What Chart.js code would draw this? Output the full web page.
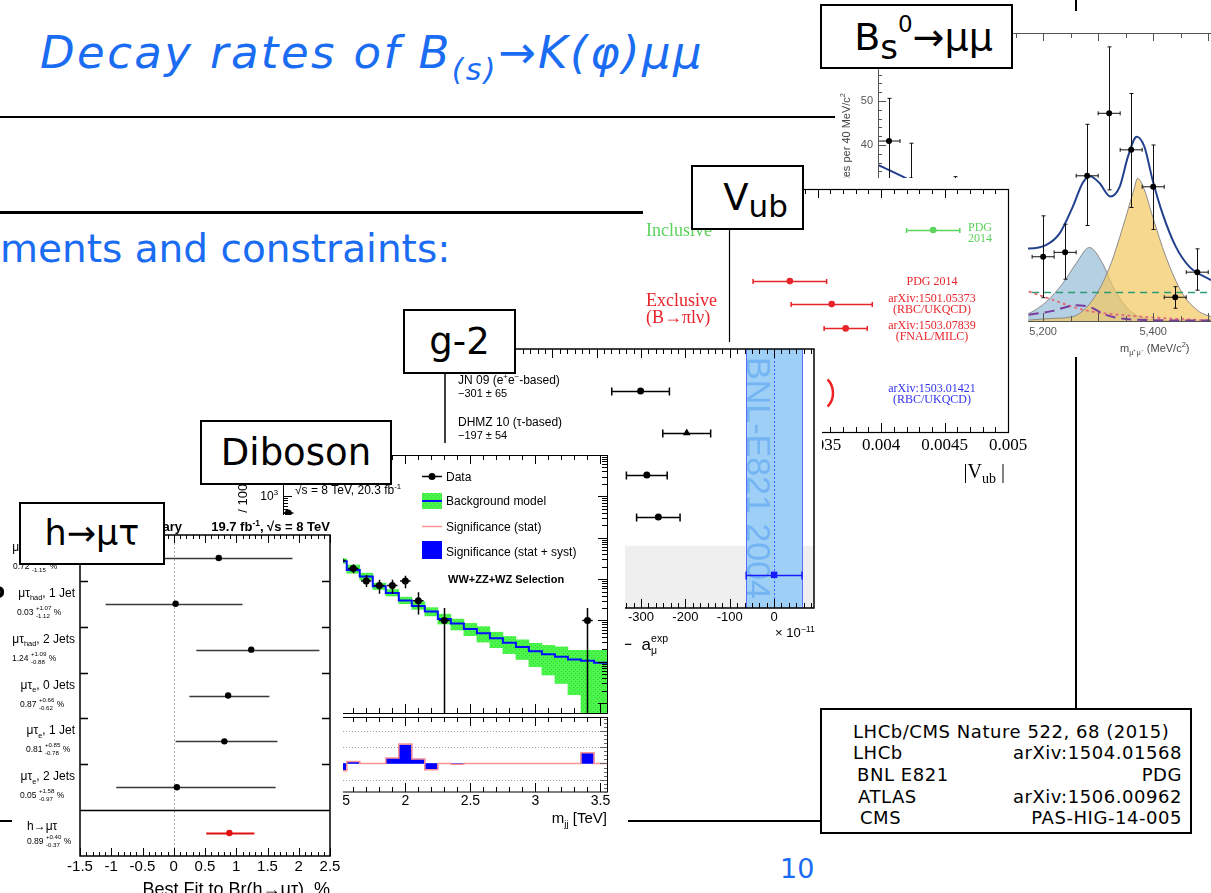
<!DOCTYPE html>
<html lang="en">
<head>
<meta charset="utf-8">
<title>Decay rates of B(s) → K(φ)μμ</title>
<script src="https://cdn.jsdelivr.net/npm/chart.js@4.4.1/dist/chart.umd.min.js"></script>
<style>
  html, body { margin: 0; padding: 0; background: #fff; overflow: hidden; }
  #slide { position: relative; width: 1211px; height: 893px; overflow: hidden; background: #fff;
           font-family: 'DejaVu Sans', Verdana, sans-serif; }
  .abs { position: absolute; white-space: nowrap; }
  .pane { position: absolute; overflow: hidden; background: #fff; }
  .pane canvas { position: absolute; left: 0; }
  .rule { position: absolute; background: #000; }
  .tag { position: absolute; box-sizing: border-box; border: 2px solid #000; background: #fff; color: #000;
         display: flex; align-items: center; justify-content: center; font-size: 37px; line-height: 1; white-space: nowrap; }
  .blue { color: #1a6cf2; }
  #refs div { position: absolute; white-space: nowrap; }
</style>
</head>
<body>
<div id="slide">
  <div class="abs blue" style="left:40px;top:30px;font-size:45px;line-height:45px;font-style:italic;letter-spacing:2.4px">Decay rates of B<span style="font-size:30px;position:relative;top:12px">(s)</span>→K(φ)μμ</div>
  <div class="rule" style="left:0;top:116px;width:835px;height:2px"></div>
  <div class="rule" style="left:0;top:211px;width:643px;height:3px"></div>
  <div class="abs blue" style="left:0;top:229px;font-size:39px;line-height:39px">ments and constraints:</div>

  <div class="rule" style="left:1075px;top:0;width:2px;height:11px"></div>
  <div class="rule" style="left:1075px;top:357px;width:2px;height:351px"></div>
  <div class="rule" style="left:628px;top:820px;width:192px;height:2px"></div>

  <div class="pane" style="left:838px;top:8px;width:373px;height:352px;z-index:1;background:transparent">
    <canvas id="cBs" width="420" height="352" style="top:0"></canvas>
  </div>
  <div class="tag" style="left:820px;top:4px;width:193px;height:65px;z-index:2;padding-left:14px;font-size:38px">B<span style="font-size:34px;position:relative;top:10px">s</span><span style="font-size:23px;position:relative;top:-12px">0</span>→μμ</div>

  <div class="pane" style="left:643px;top:178px;width:385px;height:312px;z-index:3">
    <canvas id="cVub" width="430" height="312" style="top:0"></canvas>
  </div>
  <div class="tag" style="left:691px;top:165px;width:113px;height:65px;z-index:4;padding-left:16px">V<span style="font-size:31px;position:relative;top:9px">ub</span></div>

  <div class="pane" style="left:437px;top:342px;width:385px;height:320px;z-index:5">
    <canvas id="cG2" width="385" height="320" style="top:0"></canvas>
  </div>
  <div class="tag" style="left:403px;top:309px;width:113px;height:65px;z-index:6">g-2</div>

  <div class="pane" style="left:225px;top:443px;width:400px;height:387px;z-index:7">
    <canvas id="cDibMain" width="400" height="274" style="top:0"></canvas>
    <canvas id="cDibLow" width="400" height="113" style="top:274px"></canvas>
  </div>
  <div class="tag" style="left:200px;top:420px;width:192px;height:65px;z-index:8">Diboson</div>

  <div class="pane" style="left:0;top:515px;width:343px;height:378px;z-index:9">
    <canvas id="cHmt" width="380" height="400" style="top:0"></canvas>
  </div>
  <div class="tag" style="left:19px;top:502px;width:146px;height:63px;z-index:10;font-size:35px">h→μτ</div>

  <div class="rule" style="left:0;top:820px;width:12px;height:2px;z-index:20"></div>
  <div class="abs" style="left:-10px;top:578px;font-size:22px;font-weight:bold;z-index:20">o</div>

  <div class="tag" id="refs" style="left:820px;top:708px;width:372px;height:126px;display:block;font-size:18px;line-height:21px;letter-spacing:0.55px">
    <div style="left:31px;top:11px">LHCb/CMS Nature 522, 68 (2015)</div>
    <div style="left:31px;top:32px">LHCb</div><div style="right:8px;top:32px">arXiv:1504.01568</div>
    <div style="left:35px;top:54px">BNL E821</div><div style="right:8px;top:54px">PDG</div>
    <div style="left:36px;top:76px">ATLAS</div><div style="right:8px;top:76px">arXiv:1506.00962</div>
    <div style="left:38px;top:97px">CMS</div><div style="right:8px;top:97px">PAS-HIG-14-005</div>
  </div>

  <div class="abs blue" style="left:780px;top:855px;font-size:27px;line-height:27px">10</div>
</div>

<script>
// ---------------- data ----------------
// CMS h -> mu tau, best fit branching fraction per channel (%)
const hmtChannels = ['μτ_{had}, 0 Jets', 'μτ_{had}, 1 Jet', 'μτ_{had}, 2 Jets', 'μτ_{e}, 0 Jets', 'μτ_{e}, 1 Jet', 'μτ_{e}, 2 Jets', 'h→μτ'];
const hmtBest = [0.72, 0.03, 1.24, 0.87, 0.81, 0.05, 0.89];
const hmtErrUp = [1.18, 1.07, 1.09, 0.66, 0.85, 1.58, 0.40];
const hmtErrDown = [1.15, 1.12, 0.88, 0.62, 0.78, 0.97, 0.37];
const hmtTicks = [-1.5, -1, -0.5, 0, 0.5, 1, 1.5, 2, 2.5];

// ATLAS diboson, m_jj bins (TeV); null = not visible / empty
const dibMass = [1.1, 1.2, 1.3, 1.4, 1.5, 1.6, 1.7, 1.8, 1.9, 2.0, 2.1, 2.2, 2.3, 2.4, 2.5, 2.6, 2.7, 2.8, 2.9, 3.0, 3.1, 3.2, 3.3, 3.4, 3.5];
const dibData = [394, null, null, null, 28, 18, 9, 7, 7, 9, 3, null, 1, null, null, null, null, null, null, null, null, null, null, 1, null];
const dibDataLo = [374, null, null, null, 23, 13.8, 6.4, 4.4, 4.4, 6, 1.4, null, 0, null, null, null, null, null, null, null, null, null, null, 0, null];
const dibDataHi = [414, null, null, null, 34, 23, 12.6, 9.6, 9.6, 12, 4.8, null, 2.0, null, null, null, null, null, null, null, null, null, null, 2.0, null];
const dibBkg = [null, null, null, null, 27, 16.7, 11.6, 6.7, 4.6, 3.05, 2.23, 1.64, 1.08, 0.85, 0.62, 0.49, 0.37, 0.29, 0.23, 0.18, 0.152, 0.132, 0.114, 0.106, 0.095];
const dibBkgLo = [null, null, null, null, 24, 13.9, 9.6, 5.6, 3.9, 2.54, 1.86, 1.29, 0.82, 0.59, 0.43, 0.30, 0.22, 0.158, 0.114, 0.076, 0.048, 0.030, 0.016, 0.002, 0.002];
const dibBkgHi = [null, null, null, null, 31, 21.9, 13.9, 8.0, 5.6, 3.66, 2.83, 2.04, 1.42, 1.08, 0.85, 0.71, 0.52, 0.41, 0.34, 0.28, 0.25, 0.23, 0.19, 0.19, 0.19];
const dibSigStat = [null, null, null, null, -0.45, 0.12, 0, 0, 0.33, 1.2, 0.28, -0.38, 0, -0.05, 0, 0, 0, 0, 0, 0, 0, 0, 0, 0.65, 0];
const dibSigSyst = [null, null, null, null, -0.43, 0.11, 0, 0, 0.32, 1.14, 0.26, -0.36, 0, -0.05, 0, 0, 0, 0, 0, 0, 0, 0, 0, 0.63, 0];
const dibTicks = [1.5, 2, 2.5, 3, 3.5];

// muon g-2: a_mu(SM) - a_mu(exp), units of 1e-11
const g2Names = ['JN 09 (e^{+}e^{−}-based)', 'DHMZ 10 (τ-based)', '', '', ''];
const g2Val = [-301, -197, -287, -261, 0];
const g2Err = [65, 54, 46, 49, 63];
const g2Ticks = [-700, -600, -500, -400, -300, -200, -100, 0];

// |Vub|
const vubLabels = [['PDG', '2014'], ['PDG 2014'], ['arXiv:1501.05373', '(RBC/UKQCD)'], ['arXiv:1503.07839', '(FNAL/MILC)'], ['arXiv:1503.01421', '(RBC/UKQCD)']];
const vubVal = [0.00441, 0.00328, 0.00361, 0.00372, null];
const vubErr = [0.00021, 0.00029, 0.00032, 0.00017, null];
const vubTicks = [0.003, 0.0035, 0.004, 0.0045, 0.005];

// Bs -> mu mu, candidates per 40 MeV/c^2
const bsMass = [4920, 4960, 5040, 5200, 5240, 5280, 5320, 5360, 5400, 5440, 5480];
const bsCount = [40.9, 32.0, 25, 14.6, 15.6, 33.0, 47.2, 38.9, 30.5, 5.4, 11.1];
const bsLo = [31, 24, 17.7, 5.3, 9.5, 21.7, 29.8, 25.8, 20.8, 2.9, 7.0];
const bsHi = [50.6, 40.4, 32.8, 23.9, 22.0, 44.7, 62.3, 51.7, 40.0, 7.8, 16.4];
const bsFitM = [4900, 4958, 5174, 5206, 5230, 5254, 5272, 5285, 5302, 5322, 5339, 5354, 5370, 5384, 5399, 5417, 5441, 5466, 5505];
const bsFitY = [35.5, 32.0, 16.5, 17.3, 19.9, 26.0, 31.4, 32.9, 31.4, 28.3, 30.5, 37.3, 41.9, 39.6, 32.0, 24.4, 16.9, 12.3, 9.3];
const bsBdM = [5150, 5174, 5206, 5236, 5260, 5284, 5308, 5327, 5351, 5375, 5429, 5505];
const bsBdY = [0.8, 1.7, 4.4, 8.6, 13.1, 16.7, 13.1, 7.8, 3.2, 1.0, 0.1, 0];
const bsBsM = [5174, 5218, 5254, 5290, 5321, 5345, 5363, 5372, 5384, 5399, 5423, 5453, 5484, 5505];
const bsBsY = [0.2, 0.6, 1.0, 4.8, 12.3, 21.4, 29.0, 32.4, 29.8, 23.7, 14.6, 6.3, 2.1, 1.0];
const bsCombM = [5180, 5505];
const bsCombY = [6.5, 6.5];
const bsSemiM = [5174, 5218, 5254, 5290, 5339, 5399, 5504];
const bsSemiY = [6.7, 4.8, 3.2, 2.1, 1.4, 0.8, 0.1];
const bsPeakM = [5174, 5218, 5260, 5284, 5314, 5339, 5399, 5504];
const bsPeakY = [1.4, 2.3, 3.6, 3.2, 1.4, 0.6, 0.2, 0.1];
const bsXTicks = [5000, 5200, 5400];
const bsYTicks = [0, 10, 20, 30, 40, 50, 60];

// ---------------- helpers ----------------
const SANS = "'Liberation Sans', Arial, sans-serif";
const SERIF = "'Liberation Serif', 'Times New Roman', serif";
Chart.defaults.font.family = SANS;
Chart.defaults.color = '#000';

function baseOptions(padding, scales) {
  return {
    responsive: false, animation: false, events: [],
    layout: { padding },
    plugins: { legend: { display: false }, tooltip: { enabled: false } },
    scales
  };
}
function fixW(w) { return s => { s.width = w; }; }
function fixH(h) { return s => { s.height = h; }; }
function onlyTicks(vals) { return s => { s.ticks = vals.map(v => ({ value: v })); }; }
function bare(axis) {
  return Object.assign({ offset: false, grid: { display: false, drawTicks: false, offset: false }, border: { display: false } }, axis);
}
function steps(a, b, d) {
  const out = [];
  for (let k = Math.ceil(a / d - 1e-9); k * d <= b + 1e-9; k++) out.push(+(k * d).toFixed(10));
  return out;
}
function clipArea(ctx, a) {
  ctx.beginPath(); ctx.rect(a.left, a.top, a.right - a.left, a.bottom - a.top); ctx.clip();
}
function xTicks(ctx, sx, top, bottom, vals, len) {
  ctx.beginPath();
  vals.forEach(v => {
    const px = Math.round(sx.getPixelForValue(v)) + 0.5;
    if (px < sx.left - 1 || px > sx.right + 1) return;
    if (bottom !== null) { ctx.moveTo(px, bottom); ctx.lineTo(px, bottom - len); }
    if (top !== null) { ctx.moveTo(px, top); ctx.lineTo(px, top + len); }
  });
  ctx.stroke();
}
function yTicks(ctx, sy, left, right, vals, len) {
  ctx.beginPath();
  vals.forEach(v => {
    const py = Math.round(sy.getPixelForValue(v)) + 0.5;
    if (py < sy.top - 1 || py > sy.bottom + 1) return;
    if (left !== null) { ctx.moveTo(left, py); ctx.lineTo(left + len, py); }
    if (right !== null) { ctx.moveTo(right, py); ctx.lineTo(right - len, py); }
  });
  ctx.stroke();
}
function hBar(ctx, x1, x2, y, cap) {
  ctx.moveTo(x1, y); ctx.lineTo(x2, y);
  if (cap) { ctx.moveTo(x1, y - cap); ctx.lineTo(x1, y + cap); ctx.moveTo(x2, y - cap); ctx.lineTo(x2, y + cap); }
}
function vBar(ctx, x, y1, y2, cap) {
  ctx.moveTo(x, y1); ctx.lineTo(x, y2);
  if (cap) { ctx.moveTo(x - cap, y1); ctx.lineTo(x + cap, y1); ctx.moveTo(x - cap, y2); ctx.lineTo(x + cap, y2); }
}
// tiny markup: ^{sup} and _{sub}; a sup directly followed by a sub (or reverse) is stacked
function parseRich(str) {
  const parts = [], re = /([\^_])\{([^}]*)\}/g;
  let last = 0, m;
  while ((m = re.exec(str))) {
    if (m.index > last) parts.push({ t: str.slice(last, m.index), k: 'n' });
    parts.push({ t: m[2], k: m[1] === '^' ? 'sup' : 'sub' });
    last = re.lastIndex;
  }
  if (last < str.length) parts.push({ t: str.slice(last), k: 'n' });
  return parts;
}
function richText(ctx, str, x, y, o) {
  const size = o.size, small = size * (o.ratio || 0.68);
  const supDy = o.supDy !== undefined ? o.supDy : -size * 0.42;
  const subDy = o.subDy !== undefined ? o.subDy : size * 0.28;
  const font = s => `${o.style || 'normal'} ${o.weight || 'normal'} ${s}px ${o.family || SANS}`;
  const parts = parseRich(str), items = [];
  let w = 0;
  for (let i = 0; i < parts.length; i++) {
    const p = parts[i];
    if (p.k === 'n') {
      ctx.font = font(size);
      items.push({ t: p.t, f: font(size), x: w, dy: 0 });
      w += ctx.measureText(p.t).width;
    } else {
      ctx.font = font(small);
      const pw = ctx.measureText(p.t).width;
      items.push({ t: p.t, f: font(small), x: w, dy: p.k === 'sup' ? supDy : subDy });
      const nx = parts[i + 1];
      if (nx && nx.k !== 'n' && nx.k !== p.k) {
        items.push({ t: nx.t, f: font(small), x: w, dy: nx.k === 'sup' ? supDy : subDy });
        w += Math.max(pw, ctx.measureText(nx.t).width);
        i++;
      } else {
        w += pw;
      }
    }
  }
  const x0 = o.align === 'right' ? x - w : o.align === 'center' ? x - w / 2 : x;
  ctx.save();
  ctx.fillStyle = o.color || '#000';
  ctx.textAlign = 'left';
  ctx.textBaseline = 'alphabetic';
  items.forEach(it => { ctx.font = it.f; ctx.fillText(it.t, x0 + it.x, y + it.dy); });
  ctx.restore();
  return w;
}
function histEdges(centers, vals, half) {
  const pts = [];
  let lastIdx = -1;
  centers.forEach((c, i) => {
    if (vals[i] === null) return;
    pts.push({ x: c - half, y: vals[i] });
    lastIdx = i;
  });
  if (lastIdx >= 0) pts.push({ x: centers[lastIdx] + half, y: vals[lastIdx] });
  return pts;
}
function xy(xs, ys) { return xs.map((v, i) => ({ x: v, y: ys[i] })); }

// ---------------- Bs -> mu mu ----------------
const bsDecor = {
  id: 'bsDecor',
  beforeDatasetDraw(chart, args) {
    if (args.index !== 0) return;
    const { ctx, chartArea: a, scales: { x, y } } = chart;
    ctx.save(); clipArea(ctx, a);
    ctx.strokeStyle = '#111'; ctx.lineWidth = 1;
    ctx.beginPath();
    bsMass.forEach((m, i) => {
      const px = Math.round(x.getPixelForValue(m)) + 0.5, py = y.getPixelForValue(bsCount[i]);
      hBar(ctx, x.getPixelForValue(m - 20), x.getPixelForValue(m + 20), py, 2);
      vBar(ctx, px, y.getPixelForValue(bsLo[i]), y.getPixelForValue(bsHi[i]), 2);
    });
    ctx.stroke();
    ctx.restore();
  },
  afterDatasetsDraw(chart) {
    const { ctx, chartArea: a, scales: { x, y } } = chart;
    ctx.save();
    ctx.strokeStyle = '#555'; ctx.lineWidth = 1;
    ctx.beginPath();
    ctx.moveTo(a.left + 0.5, a.bottom + 0.5); ctx.lineTo(a.left + 0.5, a.top + 0.5); ctx.lineTo(a.right, a.top + 0.5);
    ctx.moveTo(a.left, a.bottom + 0.5); ctx.lineTo(a.right, a.bottom + 0.5);
    ctx.stroke();
    xTicks(ctx, x, a.top, a.bottom, steps(4900, 5500, 50), 5);
    xTicks(ctx, x, a.top, a.bottom, steps(4900, 5500, 100), 8);
    yTicks(ctx, y, a.left, null, steps(0, 64, 2), 4);
    yTicks(ctx, y, a.left, null, steps(0, 60, 10), 8);
    richText(ctx, 'm_{μ⁺μ⁻} (MeV/c^{2})', 282, 344, { size: 11, color: '#444' });
    ctx.translate(12, 85); ctx.rotate(-Math.PI / 2);
    richText(ctx, 'Candidates per 40 MeV/c^{2}', 0, 0, { size: 11, color: '#444', align: 'right' });
    ctx.restore();
  }
};
new Chart(document.getElementById('cBs'), {
  type: 'scatter',
  data: { datasets: [
    { data: xy(bsMass, bsCount), pointRadius: 3, pointBackgroundColor: '#000', pointBorderWidth: 0 },
    { type: 'line', data: xy(bsFitM, bsFitY), borderColor: '#23408e', borderWidth: 2, pointRadius: 0, cubicInterpolationMode: 'monotone', fill: false },
    { type: 'line', data: xy(bsPeakM, bsPeakY), borderColor: '#7a3c9e', borderWidth: 2, borderDash: [10, 6], pointRadius: 0, cubicInterpolationMode: 'monotone', fill: false },
    { type: 'line', data: xy(bsSemiM, bsSemiY), borderColor: '#e4707c', borderWidth: 2, borderDash: [3, 3], pointRadius: 0, cubicInterpolationMode: 'monotone', fill: false },
    { type: 'line', data: xy(bsCombM, bsCombY), borderColor: '#2b9b73', borderWidth: 1.5, borderDash: [7, 5], pointRadius: 0, fill: false },
    { type: 'line', data: xy(bsBsM, bsBsY), borderColor: '#8a8a8a', borderWidth: 1, backgroundColor: 'rgba(244,200,96,0.7)', fill: 'origin', pointRadius: 0, cubicInterpolationMode: 'monotone' },
    { type: 'line', data: xy(bsBdM, bsBdY), borderColor: '#8a8a8a', borderWidth: 1, backgroundColor: '#b5d0e2', fill: 'origin', pointRadius: 0, cubicInterpolationMode: 'monotone' }
  ] },
  options: baseOptions({ left: 0, top: 25, right: 47, bottom: 0 }, {
    x: bare({ type: 'linear', min: 4900, max: 5505, afterBuildTicks: onlyTicks(bsXTicks), afterFit: fixH(39),
      ticks: { font: { size: 11 }, color: '#555', padding: 4, autoSkip: false, maxRotation: 0, callback: v => v.toLocaleString('en-US') } }),
    y: bare({ type: 'linear', min: 0, max: 65.45, afterBuildTicks: onlyTicks(bsYTicks), afterFit: fixW(40),
      ticks: { font: { size: 11 }, color: '#555', padding: 5, autoSkip: false } })
  }),
  plugins: [bsDecor]
});

// ---------------- |Vub| ----------------
const VUB_ROWS = [1.6, 3.6, 4.5, 5.45, 8.0];
const VUB_SHIFT = [2.5, 0, -0.5, 2.5, -0.5];
const vubColor = i => i === 0 ? '#5cd35c' : i === vubVal.length - 1 ? '#3232ee' : '#e8242a';
const vubDecor = {
  id: 'vubDecor',
  beforeDatasetsDraw(chart) {
    const { ctx, chartArea: a, scales: { x, y } } = chart;
    ctx.save(); clipArea(ctx, a);
    ctx.lineWidth = 1.5;
    vubVal.forEach((v, i) => {
      if (v === null) return;
      const py = Math.round(y.getPixelForValue(VUB_ROWS[i])) + 0.5;
      ctx.strokeStyle = vubColor(i);
      ctx.beginPath();
      hBar(ctx, x.getPixelForValue(v - vubErr[i]), x.getPixelForValue(v + vubErr[i]), py, 2.5);
      ctx.stroke();
    });
    ctx.restore();
  },
  afterDatasetsDraw(chart) {
    const { ctx, chartArea: a, scales: { x, y } } = chart;
    ctx.save();
    ctx.strokeStyle = '#000'; ctx.lineWidth = 1.2;
    ctx.strokeRect(a.left + 0.5, a.top + 0.5, a.right - a.left, a.bottom - a.top);
    ctx.lineWidth = 1;
    xTicks(ctx, x, a.top, a.bottom, steps(0.0028, 0.005, 0.0001), 5);
    xTicks(ctx, x, a.top, a.bottom, steps(0.003, 0.005, 0.0005), 9);
    vubLabels.forEach((lines, i) => {
      const cy = y.getPixelForValue(VUB_ROWS[i]) + VUB_SHIFT[i];
      const cx = i === 0 ? 337 : 289;
      lines.forEach((t, k) => {
        const base = cy + 4 + (k - (lines.length - 1) / 2) * 11;
        richText(ctx, t, cx, base, { size: 12, family: SERIF, color: vubColor(i), align: 'center' });
      });
    });
    richText(ctx, 'Inclusive', 3, 58, { size: 18, family: SERIF, color: '#5cd35c' });
    richText(ctx, 'Exclusive', 3, 128, { size: 18, family: SERIF, color: '#e8242a' });
    richText(ctx, '(B→πlν)', 3, 145, { size: 18, family: SERIF, color: '#e8242a' });
    richText(ctx, '|V_{ub} |', 362, 300, { size: 20, family: SERIF, ratio: 0.7, subDy: 5, align: 'right' });
    ctx.strokeStyle = '#ee2222'; ctx.lineWidth = 2.5;
    ctx.beginPath(); ctx.arc(170, 215, 20, -0.75, 0.75); ctx.stroke();
    ctx.restore();
  }
};
new Chart(document.getElementById('cVub'), {
  type: 'scatter',
  data: { datasets: [{
    data: vubVal.map((v, i) => ({ x: v, y: VUB_ROWS[i] })).filter(p => p.x !== null),
    pointRadius: 3.3, pointBorderWidth: 0,
    pointBackgroundColor: vubVal.map((v, i) => vubColor(i))
  }] },
  options: baseOptions({ left: 0, top: 11, right: 65, bottom: 0 }, {
    x: bare({ type: 'linear', min: 0.0028, max: 0.005, afterBuildTicks: onlyTicks(vubTicks), afterFit: fixH(58),
      ticks: { font: { size: 17, family: SERIF }, color: '#000', padding: 3, autoSkip: false, maxRotation: 0, callback: v => String(v) } }),
    y: bare({ type: 'linear', min: 0, max: 9.5, reverse: true, afterFit: fixW(86), ticks: { display: false } })
  }),
  plugins: [vubDecor]
});

// ---------------- muon g-2 ----------------
const G2_ROWS = [1, 2, 3, 4, 5.38];
const G2_GRAY_FROM = 4.69;
const g2Decor = {
  id: 'g2Decor',
  beforeDatasetsDraw(chart) {
    const { ctx, chartArea: a, scales: { x, y } } = chart;
    const last = g2Val.length - 1;
    ctx.save(); clipArea(ctx, a);
    const gy = y.getPixelForValue(G2_GRAY_FROM);
    ctx.fillStyle = '#efefef';
    ctx.fillRect(a.left, gy, a.right - a.left, a.bottom - gy);
    const bl = x.getPixelForValue(g2Val[last] - g2Err[last]), br = x.getPixelForValue(g2Val[last] + g2Err[last]);
    ctx.fillStyle = '#9dcff7';
    ctx.fillRect(bl, a.top, br - bl, a.bottom - a.top);
    ctx.strokeStyle = '#5a6dff'; ctx.lineWidth = 1;
    ctx.beginPath();
    ctx.moveTo(Math.round(bl) + 0.5, a.top); ctx.lineTo(Math.round(bl) + 0.5, a.bottom);
    ctx.moveTo(Math.round(br) + 0.5, a.top); ctx.lineTo(Math.round(br) + 0.5, a.bottom);
    ctx.stroke();
    const xc = Math.round(x.getPixelForValue(g2Val[last])) + 0.5;
    ctx.setLineDash([2, 2]); ctx.strokeStyle = '#3b5cff';
    ctx.beginPath(); ctx.moveTo(xc, a.top); ctx.lineTo(xc, a.bottom); ctx.stroke();
    ctx.setLineDash([]);
    ctx.save();
    ctx.translate(bl + 1, a.top + 8); ctx.rotate(Math.PI / 2);
    ctx.font = `34px ${SANS}`; ctx.fillStyle = '#74b4f2'; ctx.textBaseline = 'alphabetic';
    ctx.fillText('BNL-E821 2004', 0, 0);
    ctx.restore();
    ctx.lineWidth = 1.5;
    g2Val.forEach((v, i) => {
      const py = Math.round(y.getPixelForValue(G2_ROWS[i])) + 0.5;
      ctx.strokeStyle = i === last ? '#1a1aff' : '#000';
      ctx.beginPath();
      hBar(ctx, x.getPixelForValue(v - g2Err[i]), x.getPixelForValue(v + g2Err[i]), py, 4);
      ctx.stroke();
    });
    ctx.restore();
  },
  afterDatasetsDraw(chart) {
    const { ctx, chartArea: a, scales: { x, y } } = chart;
    ctx.save();
    ctx.strokeStyle = '#000'; ctx.lineWidth = 1.5;
    ctx.strokeRect(a.left, a.top, a.right - a.left, a.bottom - a.top);
    ctx.lineWidth = 1;
    xTicks(ctx, x, a.top, a.bottom, steps(-742, 90, 100 / 6), 5);
    xTicks(ctx, x, a.top, a.bottom, steps(-700, 0, 100), 9);
    g2Names.forEach((name, i) => {
      if (!name) return;
      const py = y.getPixelForValue(G2_ROWS[i]);
      richText(ctx, name, 21, py - 7, { size: 12, ratio: 0.65 });
      richText(ctx, `−${Math.abs(g2Val[i])} ± ${g2Err[i]}`, 21, py + 6.5, { size: 11 });
    });
    richText(ctx, '× 10^{−11}', 378, 295, { size: 13, align: 'right' });
    richText(ctx, 'a_{μ}^{SM}  −  a_{μ}^{exp}', 231, 308, { size: 17, ratio: 0.62, supDy: -8, subDy: 4, align: 'right' });
    ctx.restore();
  }
};
new Chart(document.getElementById('cG2'), {
  type: 'scatter',
  data: { datasets: [{
    data: g2Val.map((v, i) => ({ x: v, y: G2_ROWS[i] })),
    pointStyle: ['circle', 'triangle', 'circle', 'circle', 'rect'],
    pointRadius: [3.5, 4.5, 3.5, 3.5, 4.6], pointBorderWidth: 0,
    pointBackgroundColor: g2Val.map((v, i) => i === g2Val.length - 1 ? '#1a1aff' : '#000')
  }] },
  options: baseOptions({ left: 0, top: 7, right: 8, bottom: 0 }, {
    x: bare({ type: 'linear', min: -742, max: 90, afterBuildTicks: onlyTicks(g2Ticks), afterFit: fixH(54),
      ticks: { font: { size: 13 }, color: '#000', padding: 2, autoSkip: false, maxRotation: 0, callback: v => String(v) } }),
    y: bare({ type: 'linear', min: 0, max: 6.17, reverse: true, afterFit: fixW(8), ticks: { display: false } })
  }),
  plugins: [g2Decor]
});

// ---------------- Diboson ----------------
const DIB_HALF = 0.05, DIB_XERR = 0.04;
const dibPattern = (() => {
  const c = document.createElement('canvas');
  c.width = 4; c.height = 4;
  const g = c.getContext('2d');
  g.fillStyle = '#4cf54c'; g.fillRect(0, 0, 4, 4);
  g.fillStyle = '#30d830'; g.fillRect(0, 0, 1, 1); g.fillRect(2, 2, 1, 1);
  return document.getElementById('cDibMain').getContext('2d').createPattern(c, 'repeat');
})();
const dibMainDecor = {
  id: 'dibMainDecor',
  beforeDatasetDraw(chart, args) {
    if (args.index !== 0) return;
    const { ctx, chartArea: a, scales: { x, y } } = chart;
    ctx.save(); clipArea(ctx, a);
    ctx.strokeStyle = '#000'; ctx.lineWidth = 1.5;
    ctx.beginPath();
    dibMass.forEach((m, i) => {
      if (dibData[i] === null) return;
      const px = Math.round(x.getPixelForValue(m)) + 0.5, py = y.getPixelForValue(dibData[i]);
      hBar(ctx, x.getPixelForValue(m - DIB_XERR), x.getPixelForValue(m + DIB_XERR), py, 0);
      vBar(ctx, px, y.getPixelForValue(dibDataLo[i]), y.getPixelForValue(dibDataHi[i]), 0);
    });
    ctx.stroke();
    ctx.restore();
  },
  afterDatasetsDraw(chart) {
    const { ctx, chartArea: a, scales: { x, y } } = chart;
    ctx.save();
    ctx.strokeStyle = '#000'; ctx.lineWidth = 1;
    ctx.strokeRect(a.left + 0.5, a.top + 0.5, a.right - a.left, a.bottom - a.top);
    xTicks(ctx, x, a.top, a.bottom, steps(1.1, 3.5, 0.1), 5);
    xTicks(ctx, x, a.top, a.bottom, steps(1.5, 3.5, 0.5), 9);
    const minor = [], major = [];
    for (let e = -2; e <= 4; e++) { major.push(10 ** e); for (let k = 2; k < 10; k++) minor.push(k * 10 ** e); }
    yTicks(ctx, y, a.left, a.right, minor, 5);
    yTicks(ctx, y, a.left, a.right, major, 9);
    for (let e = -2; e <= 4; e++) {
      richText(ctx, `10^{${e}}`, 53, y.getPixelForValue(10 ** e) + 4, { size: 12, ratio: 0.65, align: 'right' });
    }
    richText(ctx, '√s = 8 TeV, 20.3 fb^{-1}', 70, 51, { size: 12, ratio: 0.65 });
    ctx.save();
    ctx.translate(22, 113); ctx.rotate(-Math.PI / 2);
    richText(ctx, 'Events / 100 GeV', 0, 0, { size: 13 });
    ctx.restore();
    // legend
    ctx.lineWidth = 1.5; ctx.strokeStyle = '#000';
    ctx.beginPath(); ctx.moveTo(197, 33.5); ctx.lineTo(217, 33.5); ctx.stroke();
    ctx.fillStyle = '#000'; ctx.beginPath(); ctx.arc(207, 33.5, 3.5, 0, Math.PI * 2); ctx.fill();
    richText(ctx, 'Data', 221, 38, { size: 12 });
    ctx.fillStyle = dibPattern; ctx.fillRect(197, 50, 20, 16);
    ctx.strokeStyle = '#0010ff'; ctx.lineWidth = 2;
    ctx.beginPath(); ctx.moveTo(197, 58); ctx.lineTo(217, 58); ctx.stroke();
    richText(ctx, 'Background model', 221, 62, { size: 12 });
    ctx.strokeStyle = '#ff9494'; ctx.lineWidth = 1.5;
    ctx.beginPath(); ctx.moveTo(197, 83.5); ctx.lineTo(217, 83.5); ctx.stroke();
    richText(ctx, 'Significance (stat)', 221, 88, { size: 12 });
    ctx.fillStyle = '#0000ff'; ctx.fillRect(197, 98, 20, 18);
    richText(ctx, 'Significance (stat + syst)', 221, 113, { size: 12 });
    richText(ctx, 'WW+ZZ+WZ Selection', 223, 140, { size: 11, weight: 'bold' });
    ctx.restore();
  }
};
new Chart(document.getElementById('cDibMain'), {
  type: 'scatter',
  data: { datasets: [
    { data: xy(dibMass, dibData), pointRadius: 3.5, pointBackgroundColor: '#000', pointBorderWidth: 0 },
    { type: 'line', data: histEdges(dibMass, dibBkg, DIB_HALF), stepped: 'before', borderColor: '#0010ff', borderWidth: 2, pointRadius: 0, fill: false },
    { type: 'bar', data: dibMass.map((m, i) => ({ x: m, y: [dibBkgLo[i], dibBkgHi[i]] })).filter(d => d.y[0] !== null),
      backgroundColor: dibPattern, borderWidth: 0, barPercentage: 1, categoryPercentage: 1, grouped: false }
  ] },
  options: baseOptions({ left: 0, top: 12, right: 18, bottom: 0 }, {
    x: { type: 'linear', min: 1.06, max: 3.55, offset: false, display: false },
    y: bare({ type: 'logarithmic', min: 0.0058, max: 10000, afterFit: fixW(58), ticks: { display: false } })
  }),
  plugins: [dibMainDecor]
});
const dibLowDecor = {
  id: 'dibLowDecor',
  beforeDatasetsDraw(chart) {
    const { ctx, chartArea: a, scales: { y } } = chart;
    ctx.save();
    ctx.strokeStyle = '#a0a0a0'; ctx.lineWidth = 1; ctx.setLineDash([1, 2]);
    ctx.beginPath();
    [-1, 1, 2].forEach(v => {
      const py = Math.round(y.getPixelForValue(v)) + 0.5;
      ctx.moveTo(a.left, py); ctx.lineTo(a.right, py);
    });
    ctx.stroke();
    ctx.restore();
  },
  afterDatasetsDraw(chart) {
    const { ctx, chartArea: a, scales: { x, y } } = chart;
    ctx.save();
    ctx.strokeStyle = '#000'; ctx.lineWidth = 1;
    ctx.strokeRect(a.left + 0.5, a.top + 0.5, a.right - a.left, a.bottom - a.top - 0.5);
    xTicks(ctx, x, a.top, a.bottom, steps(1.1, 3.5, 0.1), 5);
    xTicks(ctx, x, a.top, a.bottom, steps(1.5, 3.5, 0.5), 9);
    ctx.strokeStyle = '#666';
    yTicks(ctx, y, a.left, a.right, steps(-1.75, 2.75, 0.25), 3);
    yTicks(ctx, y, a.left, a.right, [-1, 0, 1, 2], 7);
    richText(ctx, 'm_{jj} [TeV]', a.right, 106, { size: 15, ratio: 0.65, align: 'right' });
    ctx.restore();
  }
};
new Chart(document.getElementById('cDibLow'), {
  type: 'scatter',
  data: { datasets: [
    { type: 'line', data: histEdges(dibMass, dibSigStat, DIB_HALF), stepped: 'before', borderColor: '#ff9494', borderWidth: 1.5, pointRadius: 0, fill: false },
    { type: 'bar', data: xy(dibMass, dibSigSyst).filter(d => d.y !== null), backgroundColor: '#0000ff',
      borderWidth: 0, barPercentage: 1, categoryPercentage: 1, grouped: false }
  ] },
  options: baseOptions({ left: 0, top: 0, right: 18, bottom: 0 }, {
    x: bare({ type: 'linear', min: 1.06, max: 3.55, afterBuildTicks: onlyTicks(dibTicks), afterFit: fixH(38),
      ticks: { font: { size: 14 }, color: '#000', padding: 1, autoSkip: false, maxRotation: 0, callback: v => String(v) } }),
    y: bare({ type: 'linear', min: -1.75, max: 2.85, afterFit: fixW(58), ticks: { display: false } })
  }),
  plugins: [dibLowDecor]
});

// ---------------- h -> mu tau ----------------
const HMT_VALUE_X = [13, 17, 12, 20, 26, 20, 27];
const hmtDecor = {
  id: 'hmtDecor',
  beforeDatasetsDraw(chart) {
    const { ctx, chartArea: a, scales: { x, y } } = chart;
    const last = hmtBest.length - 1;
    ctx.save();
    ctx.strokeStyle = '#b0b0b0'; ctx.lineWidth = 1; ctx.setLineDash([2, 2]);
    const x0 = Math.round(x.getPixelForValue(0)) + 0.5;
    ctx.beginPath(); ctx.moveTo(x0, a.top); ctx.lineTo(x0, a.bottom); ctx.stroke();
    ctx.setLineDash([]);
    hmtBest.forEach((v, i) => {
      const py = Math.round(y.getPixelForValue(i)) + 0.5;
      ctx.strokeStyle = i === last ? '#e01010' : '#3a3a3a';
      ctx.lineWidth = i === last ? 2 : 1.5;
      ctx.beginPath();
      hBar(ctx, x.getPixelForValue(v - hmtErrDown[i]), x.getPixelForValue(v + hmtErrUp[i]), py, 0);
      ctx.stroke();
    });
    ctx.restore();
  },
  afterDatasetsDraw(chart) {
    const { ctx, chartArea: a, scales: { x, y } } = chart;
    const n = hmtChannels.length;
    ctx.save();
    ctx.strokeStyle = '#000'; ctx.lineWidth = 1.5;
    ctx.strokeRect(a.left, a.top, a.right - a.left, a.bottom - a.top);
    ctx.lineWidth = 1;
    xTicks(ctx, x, a.top, a.bottom, steps(-1.5, 2.5, 0.1), 4);
    xTicks(ctx, x, a.top, a.bottom, steps(-1.5, 2.5, 0.5), 8);
    const bounds = [];
    for (let i = 0; i < n - 1; i++) bounds.push((y.getPixelForValue(i) + y.getPixelForValue(i + 1)) / 2);
    ctx.lineWidth = 1.5;
    ctx.beginPath();
    bounds.slice(0, n - 2).forEach(b => {
      const py = Math.round(b) + 0.5;
      ctx.moveTo(a.left, py); ctx.lineTo(a.left + 8, py);
      ctx.moveTo(a.right, py); ctx.lineTo(a.right - 8, py);
    });
    const sep = Math.round(bounds[n - 2]) + 0.5;
    ctx.moveTo(a.left, sep); ctx.lineTo(a.right, sep);
    ctx.stroke();
    hmtChannels.forEach((name, i) => {
      const py = y.getPixelForValue(i);
      const last = i === n - 1;
      richText(ctx, name, last ? 27 : 75, py + (last ? -3 : -7), { size: 12, ratio: 0.62, subDy: 3.5, align: last ? 'left' : 'right' });
      const val = `${hmtBest[i].toFixed(2)} ^{+${hmtErrUp[i].toFixed(2)}}_{-${hmtErrDown[i].toFixed(2)}} %`;
      richText(ctx, val, HMT_VALUE_X[i], py + 11, { size: 8.5, ratio: 0.72, supDy: -5, subDy: 3 });
    });
    richText(ctx, '19.7 fb^{-1}, √s = 8 TeV', a.right, 16, { size: 13, weight: 'bold', ratio: 0.65, align: 'right' });
    richText(ctx, 'CMS Preliminary', 182, 16, { size: 13, weight: 'bold', align: 'right' });
    richText(ctx, 'Best Fit to Br(h→μτ), %', a.right, 380, { size: 18, align: 'right' });
    ctx.restore();
  }
};
new Chart(document.getElementById('cHmt'), {
  type: 'scatter',
  data: { datasets: [{
    data: hmtBest.map((v, i) => ({ x: v, y: hmtChannels[i] })),
    pointRadius: 3.2, pointBorderWidth: 0,
    pointBackgroundColor: hmtBest.map((v, i) => i === hmtBest.length - 1 ? '#e01010' : '#000')
  }] },
  options: baseOptions({ left: 0, top: 20, right: 50, bottom: 0 }, {
    x: bare({ type: 'linear', min: -1.5, max: 2.5, afterBuildTicks: onlyTicks(hmtTicks), afterFit: fixH(59),
      ticks: { font: { size: 15 }, color: '#000', padding: 2, autoSkip: false, maxRotation: 0, callback: v => String(v) } }),
    y: bare({ type: 'category', labels: hmtChannels, offset: true, afterFit: fixW(80), ticks: { display: false } })
  }),
  plugins: [hmtDecor]
});
</script>
</body>
</html>
